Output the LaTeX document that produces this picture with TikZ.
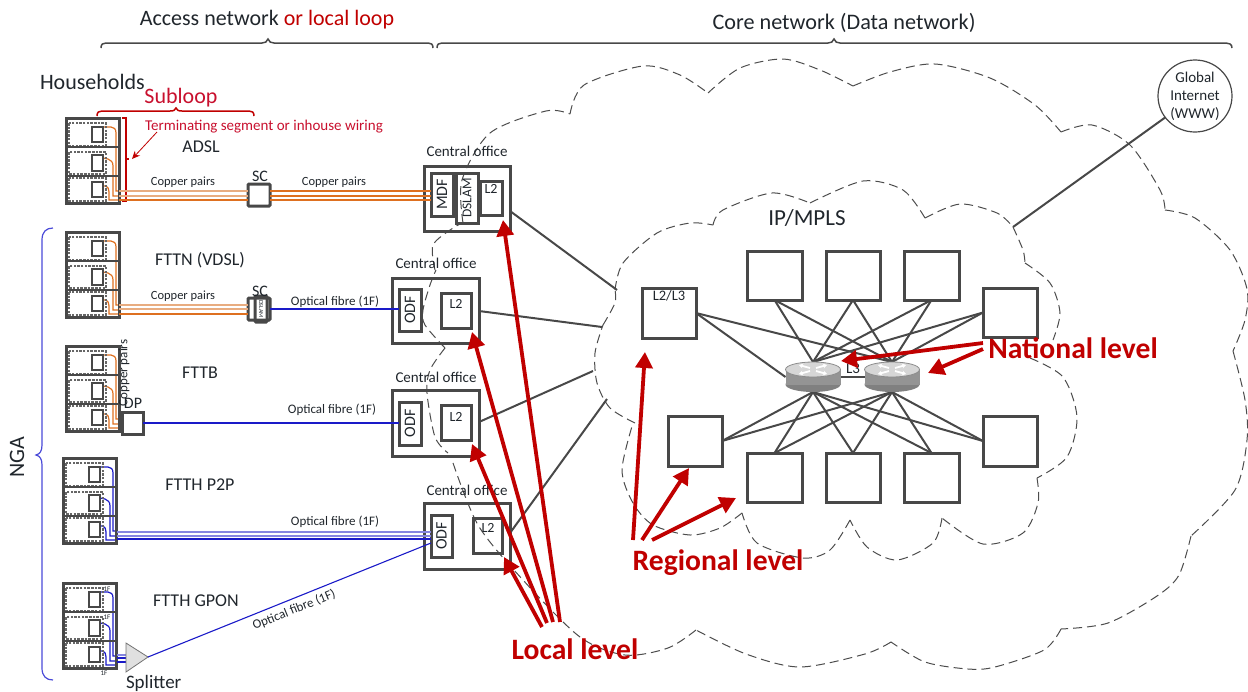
\documentclass[tikz,border=0pt]{standalone}
\usepackage{fontspec}
\setmainfont{Carlito}
\usetikzlibrary{arrows.meta,shapes.geometric}
\definecolor{ink}{HTML}{20262C}
\definecolor{edge}{HTML}{484848}
\definecolor{deepred}{HTML}{C00000}
\definecolor{subred}{HTML}{C8102E}
\definecolor{copper}{HTML}{DE7020}
\definecolor{copperpale}{HTML}{E8AC80}
\definecolor{fibre}{HTML}{1A1AC8}
\definecolor{fibrepale}{HTML}{8585E0}
\definecolor{ngablue}{HTML}{4A4AD8}
\newcommand{\fs}[1]{\fontsize{#1}{#1}\selectfont}
\newcommand{\RN}[6]{%
  \pgfmathsetmacro\cx{(#2+#4)/2}\pgfmathsetmacro\cy{(#3+#5)/2}%
  \pgfmathsetmacro\ww{abs(#4-#2)}\pgfmathsetmacro\hh{abs(#5-#3)}%
  \node[#6,minimum width=\ww pt,minimum height=\hh pt] (#1) at (\cx,\cy) {};}
\newcommand{\bldg}[3]{%
  \begin{scope}[shift={(#1,#2)}]
    \draw[wire,#3] (37,9) -- (45,9) .. controls (48,9) and (50,11) .. (50,15) -- (50,73) -- (53,73);
    \draw[wire,#3] (37,40) -- (42,41) .. controls (45,42) and (47,44) .. (47,48) -- (47,78) -- (53,78);
    \draw[wire,#3] (37,68) -- (40,68) .. controls (42,69) and (43,71) .. (43,74) -- (43,82) -- (53,82);
    \draw[dashunit] (3,5) rectangle (40,28);
    \draw[dashunit] (3,34) rectangle (40,56);
    \draw[dashunit] (3,60) rectangle (40,83);
    \draw[unit] (26,9) rectangle (37,24);
    \draw[unit] (26,37) rectangle (37,53);
    \draw[unit] (26,64) rectangle (37,79);
    \draw[edge,line width=1.5pt] (0,29) -- (53,29) (0,58) -- (53,58);
    \draw[edge,line width=3pt] (0,0) rectangle (53,85);
  \end{scope}}
\newcommand{\routerart}[1]{%
  \begin{scope}[shift={(#1)}]
    \fill[black!50] (0,7.5) ellipse [x radius=27.5, y radius=7.5];
    \fill[black!42] (-27.5,-7.5) rectangle (27.5,7.5);
    \draw[black!45,fill=black!16,line width=.8pt] (0,-7.5) ellipse [x radius=27.5, y radius=7.5];
    \draw[white,line width=1.8pt,-{Stealth[length=4pt,width=5pt]}] (-3,-9) -- (-14,-12);
    \draw[white,line width=1.8pt,-{Stealth[length=4pt,width=5pt]}] (3,-9) -- (14,-12);
    \draw[white,line width=1.8pt,-{Stealth[length=4pt,width=5pt]}] (-3,-6) -- (-14,-3);
    \draw[white,line width=1.8pt,-{Stealth[length=4pt,width=5pt]}] (3,-6) -- (14,-3);
  \end{scope}}
\begin{document}
\begin{tikzpicture}[x=1pt,y=-1pt,
  box/.style={draw=edge,line width=3pt,inner sep=0,outer sep=0},
  thinbox/.style={draw=edge,line width=3pt,inner sep=0,outer sep=0,rounded corners=1pt},
  ghost/.style={inner sep=0,outer sep=0},
  tx/.style={inner sep=0,outer sep=0,text=ink},
  wire/.style={line width=1.2pt},
  unit/.style={draw=edge,line width=1.7pt},
  dashunit/.style={draw=black!60,line width=1.1pt,dash pattern=on 2.5pt off 1.2pt},
  link/.style={draw=edge,line width=2pt},
  cloudline/.style={draw=black!70,line width=1pt,dash pattern=on 9pt off 5pt},
  levelarrow/.style={draw=deepred,line width=3.8pt,-{Triangle[length=16pt,width=17pt]}},
  levelt/.style={inner sep=0,outer sep=0,text=deepred,font=\bfseries\fs{29.6}},
  bus/.style={line width=1.5pt},
]
\useasboundingbox (0,0) rectangle (1248,691);

% ---- clouds
\draw[cloudline] plot[smooth] coordinates {(463,223)(462,180)(490,133)(546,111)(570,114)};
\draw[cloudline] plot[smooth] coordinates {(570,114)(584,85)(643,66)(680,75)(708,93)};
\draw[cloudline] plot[smooth] coordinates {(708,93)(740,68)(783,59)(820,70)(853,86)};
\draw[cloudline] plot[smooth] coordinates {(853,86)(890,72)(935,64)(990,78)(1035,105)(1061,132)};
\draw[cloudline] plot[smooth] coordinates {(1061,132)(1092,125)(1130,145)(1160,190)(1165,210)};
\draw[cloudline] plot[smooth] coordinates {(1165,210)(1195,218)(1230,250)(1247,289)(1245,320)(1233,351)};
\draw[cloudline] plot[smooth] coordinates {(1233,351)(1245,400)(1247,440)(1235,490)(1191,536)};
\draw[cloudline] plot[smooth] coordinates {(1191,536)(1179,575)(1157,596)(1108,623)(1061,629)};
\draw[cloudline] plot[smooth] coordinates {(1061,629)(1044,650)(995,667)(968,669)(925,662)(891,642)};
\draw[cloudline] plot[smooth] coordinates {(891,642)(865,654)(800,667)(746,654)(696,630)};
\draw[cloudline] plot[smooth] coordinates {(696,630)(668,648)(625,655)(580,637)(523,580)(478,525)(452,460)};
\draw[cloudline] plot[smooth] coordinates {(445,348)(430,370)(427,393)(435,437)(448,453)};
\draw[cloudline] plot[smooth] coordinates {(445,348)(425,325)(423,310)(430,285)(436,270)};
\draw[cloudline] plot[smooth] coordinates {(435,270)(433,245)(453,228)(463,223)};

\draw[cloudline] plot[smooth] coordinates {(713,225)(723,210)(772,193)(810,203)};
\draw[cloudline] plot[smooth] coordinates {(810,203)(863,181)(903,190)(925,218)};
\draw[cloudline] plot[smooth] coordinates {(925,218)(960,204)(997,213)(1013,227)};
\draw[cloudline] plot[smooth] coordinates {(1013,227)(1023,250)(1025,263)};
\draw[cloudline] plot[smooth] coordinates {(1025,263)(1050,283)(1060,313)(1053,340)};
\draw[cloudline] plot[smooth] coordinates {(1030,358)(1063,377)(1077,417)(1067,457)(1037,478)};
\draw[cloudline] plot[smooth] coordinates {(1037,478)(1038,503)(1023,533)(983,544)(942,518)};
\draw[cloudline] plot[smooth] coordinates {(942,518)(933,543)(897,560)(867,547)(850,520)};
\draw[cloudline] plot[smooth] coordinates {(850,520)(830,550)(803,558)(757,543)(742,513)};
\draw[cloudline] plot[smooth] coordinates {(742,513)(720,528)(690,535)(653,525)(633,503)(622,470)(633,423)};
\draw[cloudline] plot[smooth] coordinates {(635,423)(610,408)(597,383)(595,353)(603,325)};
\draw[cloudline] plot[smooth] coordinates {(603,325)(615,303)(615,290)};
\draw[cloudline] plot[smooth] coordinates {(615,290)(623,263)(657,233)(690,223)(713,225)};

% ---- top braces
\draw[edge,line width=1.5pt] (101,48) .. controls (101,44) and (103,43) .. (106,43) -- (262,43) .. controls (265,43) and (267,42) .. (268,39) .. controls (269,42) and (271,43) .. (274,43) -- (428,43) .. controls (431,43) and (433,44) .. (433,48);
\draw[edge,line width=1.5pt] (437,48) .. controls (437,44) and (439,43) .. (442,43) -- (828,43) .. controls (831,43) and (833,42) .. (834,39) .. controls (835,42) and (837,43) .. (840,43) -- (1226,43) .. controls (1229,43) and (1232,44) .. (1232,48);

\node[tx,font=\fs{22}] (accesslabel) at (267,20) {Access network {\color{deepred}or local loop}};
\node[tx,font=\fs{22.2}] (corelabel) at (844,23) {Core network (Data network)};
\node[tx,font=\fs{22},anchor=west] (households) at (40,82) {Households};
\node[tx,font=\fs{22},rotate=90] (nga) at (17,457) {NGA};

% ---- NGA brace
\draw[ngablue,line width=1.2pt] (53,228) .. controls (46,228) and (42,232) .. (42,240) -- (42,445) .. controls (42,451) and (40,454) .. (36,455) .. controls (40,456) and (42,459) .. (42,465) -- (42,668) .. controls (42,676) and (46,680) .. (53,680);

% ---- subloop annotation
\draw[deepred,line width=1.5pt] (97,116) .. controls (97,112) and (99,111) .. (102,111) -- (170,111) .. controls (174,111) and (175,110) .. (176,108) .. controls (177,110) and (178,111) .. (182,111) -- (249,111) .. controls (252,111) and (254,112) .. (254,116);
\draw[deepred,line width=1.5pt] (122,118) -- (126,118) -- (126,201) -- (122,201) (126,159) -- (129,159);
\node[tx,text=subred,font=\fs{22}] (subloop) at (181,98) {Subloop};
\node[tx,text=subred,font=\fs{15}] (terminating) at (264,127) {Terminating segment or inhouse wiring};
\coordinate (termtail) at (157,132);
\coordinate (termtip) at (132,159);
\draw[deepred,line width=.8pt,-{Stealth[length=8pt,width=7pt]}] (termtail) -- (termtip);

% ---- households
\bldg{66}{118}{copper}
\bldg{66}{232}{copper}
\bldg{66}{346}{copper}
\bldg{63}{458}{fibre}
\bldg{63}{583}{fibre}

% ---- central offices
\RN{co1}{424}{166}{510}{231}{box}
\RN{mdf}{431}{173}{453}{216}{box}
\RN{dslam}{456}{173}{478}{223}{box}
\RN{la}{480}{181}{502}{215}{box}
\node[tx,font=\fs{15}] (co1t) at (467,151) {Central office};
\node[tx,font=\fs{16},rotate=90] (mdft) at (mdf.center) {MDF};
\node[tx,font=\fs{13.5},rotate=90] (dslamt) at (dslam.center) {DSLAM};
\node[tx,font=\fs{14}] (lat) at (491,189) {L2};

\RN{co2}{392}{278}{479}{343}{box}
\RN{odfb}{399}{289}{421}{331}{box}
\RN{lb}{441}{293}{471}{328}{box}
\node[tx,font=\fs{15}] (co2t) at (436,263) {Central office};
\node[tx,font=\fs{16},rotate=90] (odfbt) at (odfb.center) {ODF};
\node[tx,font=\fs{14}] (lbt) at (456,304) {L2};

\RN{co3}{392}{390}{479}{456}{box}
\RN{odfc}{399}{402}{421}{445}{box}
\RN{lc}{441}{405}{471}{440}{box}
\node[tx,font=\fs{15}] (co3t) at (436,377) {Central office};
\node[tx,font=\fs{16},rotate=90] (odfct) at (odfc.center) {ODF};
\node[tx,font=\fs{14}] (lct) at (456,417) {L2};

\RN{co4}{424}{503}{510}{569}{box}
\RN{odfd}{431}{515}{452}{557}{box}
\RN{ld}{473}{518}{502}{553}{box}
\node[tx,font=\fs{15}] (co4t) at (467,490) {Central office};
\node[tx,font=\fs{16},rotate=90] (odfdt) at (odfd.center) {ODF};
\node[tx,font=\fs{14}] (ldt) at (488,528) {L2};

% ---- ADSL line
\RN{sca}{248}{184}{270}{206}{thinbox}
\node[tx,font=\fs{16}] (scat) at (260,176) {SC};
\coordinate (a1) at (119,191); \coordinate (a2) at (119,196); \coordinate (a3) at (119,200);
\draw[bus,copperpale] (a1) -- (a1 -| sca.west);
\draw[bus,copperpale] (a2) -- (a2 -| sca.west);
\draw[bus,copper] (a3) -- (a3 -| sca.west);
\draw[bus,copper] (a1 -| sca.east) -- (a1 -| mdf.west);
\draw[bus,copper] (a2 -| sca.east) -- (a2 -| mdf.west);
\draw[bus,copper] (a3 -| sca.east) -- (a3 -| mdf.west);
\node[tx,font=\fs{12.5}] (cpa) at (183,182) {Copper pairs};
\node[tx,font=\fs{12.5}] (cpb) at (334,182) {Copper pairs};
\node[tx,font=\fs{18}] (adsl) at (201,147) {ADSL};

% ---- FTTN line
\RN{scb}{248}{298}{270}{320}{thinbox}
\RN{dslamsmall}{255}{296}{267}{322}{thinbox}
\node[tx,font=\fs{6},rotate=270] (dslamsmallt) at (dslamsmall.center) {DSLAM};
\node[tx,font=\fs{16}] (scbt) at (260,291) {SC};
\coordinate (b1) at (119,305); \coordinate (b2) at (119,309); \coordinate (b3) at (119,314);
\draw[bus,copperpale] (b1) -- (b1 -| scb.west);
\draw[bus,copperpale] (b2) -- (b2 -| scb.west);
\draw[bus,copper] (b3) -- (b3 -| scb.west);
\draw[fibre,line width=1.6pt] (scb.east) -- (scb.east -| odfb.west);
\node[tx,font=\fs{12.5}] (cpc) at (183,296) {Copper pairs};
\node[tx,font=\fs{13}] (ofa) at (335,302) {Optical fibre (1F)};
\node[tx,font=\fs{18}] (fttn) at (200,260) {FTTN (VDSL)};

% ---- FTTB line
\RN{dp}{122}{412}{143}{434}{box}
\node[tx,font=\fs{16}] (dpt) at (133,403) {DP};
\draw[fibre,line width=1.6pt] (dp.east) -- (dp.east -| odfc.west);
\node[tx,font=\fs{13},rotate=90] (cpd) at (124,373) {Copper pairs};
\node[tx,font=\fs{13}] (ofb) at (332,410) {Optical fibre (1F)};
\node[tx,font=\fs{18}] (fttb) at (200,373) {FTTB};

% ---- FTTH P2P line
\coordinate (c1) at (117,532); \coordinate (c2) at (117,536); \coordinate (c3) at (117,539);
\draw[wire,fibrepale] (c1) -- (c1 -| odfd.west);
\draw[wire,fibrepale] (c2) -- (c2 -| odfd.west);
\draw[wire,fibre] (c3) -- (c3 -| odfd.west);
\node[tx,font=\fs{13}] (ofc) at (335,522) {Optical fibre (1F)};
\node[tx,font=\fs{18}] (p2p) at (200,485) {FTTH P2P};

% ---- FTTH GPON line
\node[tx,font=\fs{18}] (gpon) at (196,601) {FTTH GPON};
\node[tx,font=\fs{7}] (fa) at (107,589) {1F};
\node[tx,font=\fs{7}] (fb) at (107,617) {1F};
\node[tx,font=\fs{7}] (fc) at (104,673) {1F};
\coordinate (sa) at (126,643); \coordinate (sb) at (126,672); \coordinate (stip) at (148,657);
\coordinate (d1) at (117,655); \coordinate (d2) at (117,658); \coordinate (d3) at (117,662);
\draw[wire,fibrepale] (d1) -- (d1 -| sa);
\draw[wire,fibre] (d2) -- (d2 -| sa);
\draw[wire,fibre] (d3) -- (d3 -| sa);
\draw[black!55,line width=.8pt,fill=black!12] (sa) -- (stip) -- (sb) -- cycle;
\coordinate (odfin) at (431,543);
\draw[fibre,line width=1.1pt] (stip) -- (odfin);
\node[tx,font=\fs{13},rotate=22] (ofd) at (294,610) {Optical fibre (1F)};
\node[tx,font=\fs{19},anchor=west] (splitter) at (126,683) {Splitter};

% ---- core routers and boxes
\RN{t1}{747}{251}{802}{300}{box}
\RN{t2}{826}{251}{880}{300}{box}
\RN{t3}{904}{251}{959}{300}{box}
\RN{tr}{983}{288}{1037}{337}{box}
\RN{tl}{642}{288}{696}{338}{box}
\RN{bl}{668}{416}{722}{466}{box}
\RN{b1n}{747}{453}{802}{502}{box}
\RN{b2n}{826}{453}{880}{502}{box}
\RN{b3n}{904}{453}{959}{502}{box}
\RN{br}{983}{416}{1037}{466}{box}
\RN{ra}{785.5}{362}{840.5}{392}{ghost}
\RN{rb}{864.5}{362}{919.5}{392}{ghost}
\node[tx,font=\fs{14.5}] (tlt) at (669,296) {L2/L3};
\node[tx,font=\fs{23}] (ipmpls) at (807,218) {IP/MPLS};

\foreach \s in {t1,t2,t3} {
  \draw[link] (\s.south) -- (ra.north);
  \draw[link] (\s.south) -- (rb.north);
}
\foreach \s in {b1n,b2n,b3n} {
  \draw[link] (\s.north) -- (ra.south);
  \draw[link] (\s.north) -- (rb.south);
}
\draw[link] (tl.east) -- (ra.west);
\draw[link] (tl.east) -- (rb.north);
\draw[link] (tr.west) -- (ra.north);
\draw[link] (tr.west) -- (rb.north);
\draw[link] (bl.east) -- (ra.south);
\draw[link] (bl.east) -- (rb.south);
\draw[link] (br.west) -- (ra.south);
\draw[link] (br.west) -- (rb.south);
\draw[edge,line width=2.5pt] (ra.east) -- (rb.west);
\routerart{ra.center}
\routerart{rb.center}
\node[tx,font=\fs{15}] (lthree) at (853,369) {L3};

% ---- uplinks
\coordinate (v1) at (510,211); \coordinate (v2) at (479,311);
\coordinate (v3) at (479,422); \coordinate (v4) at (510,533);
\coordinate (u1) at (617,290); \coordinate (u2) at (602,327);
\coordinate (u3) at (593,371); \coordinate (u4) at (607,399);
\draw[link] (v1) -- (u1);
\draw[link] (v2) -- (u2);
\draw[link] (v3) -- (u3);
\draw[link] (v4) -- (u4);

% ---- internet
\node[draw=edge,line width=1.2pt,fill=white,ellipse,inner sep=0,outer sep=0,minimum width=74pt,minimum height=72pt] (www) at (1195,96) {};
\node[tx,font=\fs{15},align=center] (wwwt) at (1195,96) {Global\\[3pt]Internet\\[3pt](WWW)};
\coordinate (u5) at (1013,227);
\draw[link] (u5) -- (www);

% ---- level arrows
\node[levelt] (local) at (575,649) {Local level};
\node[levelt] (regional) at (718,563) {Regional level};
\node[levelt] (national) at (1073,348) {National level};
\coordinate (lo1) at (542,627); \coordinate (lo2) at (547,623);
\coordinate (lo3) at (553,622); \coordinate (lo4) at (560,622);
\draw[levelarrow] (lo1) -- (504,557);
\draw[levelarrow] (lo2) -- (472,444);
\draw[levelarrow] (lo3) -- (472,332);
\draw[levelarrow] (lo4) -- (503,220);
\coordinate (re1) at (633,540); \coordinate (re2) at (642,540); \coordinate (re3) at (652,540);
\draw[levelarrow] (re1) -- (645,352);
\draw[levelarrow] (re2) -- (689,468);
\draw[levelarrow] (re3) -- (736,498);
\coordinate (na1) at (983,343); \coordinate (na2) at (983,349);
\draw[levelarrow] (na1) -- (841,361);
\draw[levelarrow] (na2) -- (928,373);
\end{tikzpicture}
\end{document}
